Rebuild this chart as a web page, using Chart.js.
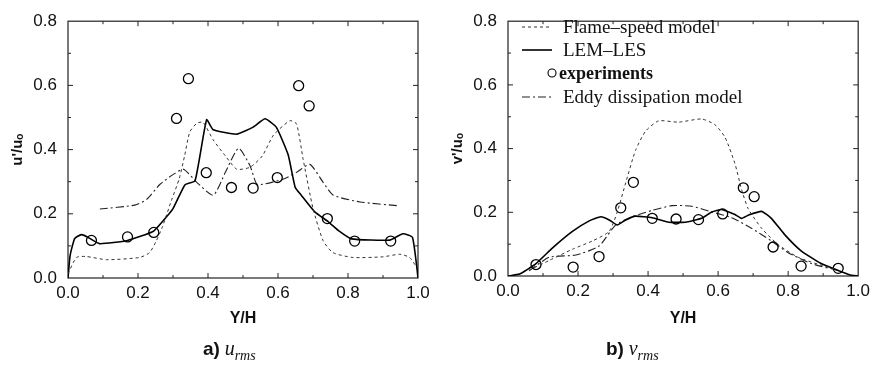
<!DOCTYPE html>
<html>
<head>
<meta charset="utf-8">
<script src="https://cdn.jsdelivr.net/npm/chart.js@4/dist/chart.umd.min.js"></script>
<style>
  body { margin: 0; background: #fff; }
  #wrap { position: relative; width: 875px; height: 367px; overflow: hidden; }
  .panel { position: absolute; top: 0; }
  .cap { position: absolute; top: 337px; font-size: 19px; color: #111; white-space: nowrap; }
  .cap b { font-family: "Liberation Sans", Arial, sans-serif; }
  .cap i { font-family: "Liberation Serif", serif; font-size: 20px; }
  .cap sub { font-size: 14px; font-style: italic; }
</style>
</head>
<body>
<div id="wrap">
  <canvas id="uchart" class="panel" width="440" height="367" style="left:0"></canvas>
  <canvas id="vchart" class="panel" width="435" height="367" style="left:440px"></canvas>
  <div class="cap" style="left:203px"><b>a)</b> <i>u</i><sub>rms</sub></div>
  <div class="cap" style="left:606px"><b>b)</b> <i>v</i><sub>rms</sub></div>
</div>
<script>
// u_rms panel, [Y/H, u'/uo]
const uExp = [[0.067,0.117],[0.170,0.128],[0.245,0.142],[0.310,0.497],[0.344,0.621],[0.395,0.328],[0.467,0.282],[0.529,0.280],[0.598,0.313],[0.659,0.599],[0.689,0.536],[0.741,0.185],[0.819,0.115],[0.922,0.115]];
const uLem = [[0,0],[0.006,0.07],[0.019,0.123],[0.038,0.135],[0.055,0.128],[0.09,0.107],[0.17,0.117],[0.243,0.145],[0.27,0.176],[0.30,0.216],[0.334,0.29],[0.363,0.303],[0.396,0.493],[0.415,0.462],[0.482,0.448],[0.529,0.470],[0.563,0.496],[0.595,0.47],[0.629,0.384],[0.649,0.283],[0.667,0.257],[0.705,0.206],[0.743,0.176],[0.776,0.145],[0.810,0.122],[0.919,0.118],[0.957,0.138],[0.984,0.127],[0.997,0.03],[1.0,0]];
const uFlame = [[0,0.013],[0.024,0.064],[0.052,0.067],[0.11,0.057],[0.205,0.064],[0.233,0.079],[0.252,0.115],[0.27,0.16],[0.295,0.24],[0.318,0.31],[0.333,0.38],[0.348,0.455],[0.368,0.482],[0.386,0.485],[0.415,0.43],[0.45,0.38],[0.482,0.339],[0.52,0.345],[0.555,0.38],[0.587,0.445],[0.634,0.49],[0.653,0.48],[0.672,0.369],[0.70,0.217],[0.729,0.116],[0.757,0.079],[0.814,0.064],[0.9,0.066],[0.948,0.074],[0.976,0.064],[0.996,0.034]];
const uEddy = [[0.091,0.215],[0.191,0.227],[0.225,0.245],[0.263,0.292],[0.30,0.322],[0.33,0.339],[0.368,0.298],[0.415,0.258],[0.45,0.33],[0.487,0.404],[0.52,0.35],[0.539,0.293],[0.563,0.293],[0.62,0.31],[0.653,0.329],[0.691,0.354],[0.729,0.298],[0.758,0.258],[0.834,0.237],[0.944,0.225]];

// v_rms panel, [Y/H, v'/uo]
const vExp = [[0.080,0.036],[0.186,0.028],[0.260,0.061],[0.322,0.214],[0.358,0.294],[0.412,0.181],[0.480,0.179],[0.544,0.177],[0.613,0.195],[0.672,0.277],[0.703,0.249],[0.757,0.091],[0.837,0.031],[0.943,0.024]];
const vLem = [[0,0],[0.033,0.006],[0.08,0.039],[0.128,0.089],[0.184,0.14],[0.232,0.173],[0.265,0.186],[0.289,0.176],[0.312,0.160],[0.336,0.176],[0.364,0.188],[0.412,0.183],[0.459,0.169],[0.506,0.169],[0.553,0.181],[0.582,0.201],[0.610,0.209],[0.648,0.193],[0.667,0.181],[0.686,0.191],[0.724,0.203],[0.752,0.181],[0.790,0.130],[0.837,0.079],[0.894,0.039],[0.941,0.018],[0.975,0.004],[1.0,0]];
const vFlame = [[0.06,0.018],[0.118,0.049],[0.184,0.084],[0.241,0.11],[0.289,0.14],[0.312,0.201],[0.336,0.292],[0.364,0.394],[0.393,0.455],[0.430,0.487],[0.487,0.483],[0.553,0.493],[0.591,0.475],[0.620,0.435],[0.648,0.353],[0.667,0.272],[0.686,0.211],[0.724,0.150],[0.771,0.099],[0.828,0.059],[0.894,0.034],[0.941,0.020]];
const vEddy = [[0.06,0.016],[0.118,0.059],[0.194,0.066],[0.26,0.094],[0.307,0.160],[0.355,0.186],[0.412,0.206],[0.468,0.221],[0.525,0.219],[0.582,0.201],[0.639,0.183],[0.695,0.150],[0.752,0.110],[0.799,0.074],[0.866,0.039],[0.941,0.018]];

const legendNames = ["Flame\u2013speed model", "LEM\u2013LES", "experiments", "Eddy dissipation model"];

const pts = (arr) => arr.map(([x, y]) => ({ x, y }));

function makeSets(flame, lem, exp, eddy) {
  return [
    { label: legendNames[0], data: pts(flame), showLine: true, borderColor: "#333", borderWidth: 1, borderDash: [3, 3], pointRadius: 0, tension: 0.2 },
    { label: legendNames[1], data: pts(lem), showLine: true, borderColor: "#000", borderWidth: 1.6, pointRadius: 0, tension: 0.15 },
    { label: legendNames[2], data: pts(exp), showLine: false, pointRadius: 5, pointBorderWidth: 1.3, pointBorderColor: "#000", pointBackgroundColor: "rgba(0,0,0,0)" },
    { label: legendNames[3], data: pts(eddy), showLine: true, borderColor: "#222", borderWidth: 1.1, borderDash: [8, 3, 2, 3], pointRadius: 0, tension: 0.2 },
  ];
}

// box with inward ticks on all four sides
const frame = {
  id: "frame",
  beforeDatasetsDraw(chart) {
    const { ctx, chartArea: a, scales: { x, y } } = chart;
    ctx.save();
    ctx.strokeStyle = "#222";
    ctx.lineWidth = 1.2;
    ctx.strokeRect(a.left, a.top, a.right - a.left, a.bottom - a.top);
    ctx.lineWidth = 1;
    ctx.beginPath();
    for (let i = 1; i < 10; i++) {
      const px = x.getPixelForValue(i / 10);
      const len = i % 2 ? 3 : 5;
      ctx.moveTo(px, a.bottom); ctx.lineTo(px, a.bottom - len);
      ctx.moveTo(px, a.top); ctx.lineTo(px, a.top + len);
    }
    for (let i = 1; i < 8; i++) {
      const py = y.getPixelForValue(i / 10);
      const len = i % 2 ? 3 : 5;
      ctx.moveTo(a.left, py); ctx.lineTo(a.left + len, py);
      ctx.moveTo(a.right, py); ctx.lineTo(a.right - len, py);
    }
    ctx.stroke();
    ctx.restore();
  },
};

// legend drawn inside the v_rms plot
const innerLegend = {
  id: "innerLegend",
  afterDatasetsDraw(chart) {
    if (!chart.options.plugins.innerLegend.show) return;
    const { ctx } = chart;
    const rows = [27, 50, 73, 97];
    ctx.save();
    ctx.textBaseline = "middle";
    ctx.fillStyle = "#111";
    chart.data.datasets.forEach((ds, k) => {
      const yy = rows[k];
      if (ds.showLine) {
        ctx.strokeStyle = ds.borderColor;
        ctx.lineWidth = ds.borderWidth;
        ctx.setLineDash(ds.borderDash || []);
        ctx.beginPath();
        ctx.moveTo(82, yy); ctx.lineTo(112, yy);
        ctx.stroke();
        ctx.setLineDash([]);
        ctx.font = "19px 'Liberation Serif', serif";
        ctx.fillText(ds.label, 123, yy + 1);
      } else {
        ctx.strokeStyle = "#000";
        ctx.lineWidth = 1.1;
        ctx.beginPath();
        ctx.arc(112, yy, 4, 0, Math.PI * 2);
        ctx.stroke();
        ctx.font = "bold 18px 'Liberation Serif', serif";
        ctx.fillText(ds.label, 119, yy + 1);
      }
    });
    ctx.restore();
  },
};

function makeChart(id, sets, yTitle, pad, xHeight, showLegend) {
  return new Chart(document.getElementById(id), {
    type: "scatter",
    data: { datasets: sets },
    plugins: [frame, innerLegend],
    options: {
      responsive: false,
      animation: false,
      layout: { padding: pad },
      plugins: { legend: { display: false }, tooltip: { enabled: false }, innerLegend: { show: showLegend } },
      scales: {
        x: {
          type: "linear", min: 0, max: 1,
          grid: { display: false, drawTicks: false },
          border: { display: false },
          ticks: { stepSize: 0.2, padding: 5, color: "#111", font: { family: "'Liberation Sans', Arial, sans-serif", size: 17 }, callback: (v) => v.toFixed(1) },
          title: { display: true, text: "Y/H", color: "#111", padding: 0, font: { family: "'Liberation Sans', Arial, sans-serif", size: 16, weight: "bold" } },
          afterFit: (s) => { s.height = xHeight; },
        },
        y: {
          type: "linear", min: 0, max: 0.8,
          grid: { display: false, drawTicks: false },
          border: { display: false },
          ticks: { stepSize: 0.2, padding: 11, color: "#111", font: { family: "'Liberation Sans', Arial, sans-serif", size: 17 }, callback: (v) => v.toFixed(1) },
          title: { display: true, text: yTitle, color: "#111", padding: { top: 9, bottom: 0 }, font: { family: "'Liberation Sans', 'DejaVu Sans', sans-serif", size: 15, weight: "bold" } },
          afterFit: (s) => { s.width = 68; },
        },
      },
    },
  });
}

const uchart = makeChart("uchart", makeSets(uFlame, uLem, uExp, uEddy), "u'/u\u2092", { left: 0, right: 22, top: 15, bottom: 39 }, 50, false);
const vchart = makeChart("vchart", makeSets(vFlame, vLem, vExp, vEddy), "v'/u\u2092", { left: 0, right: 14, top: 13, bottom: 39 }, 52, true);
</script>
</body>
</html>
